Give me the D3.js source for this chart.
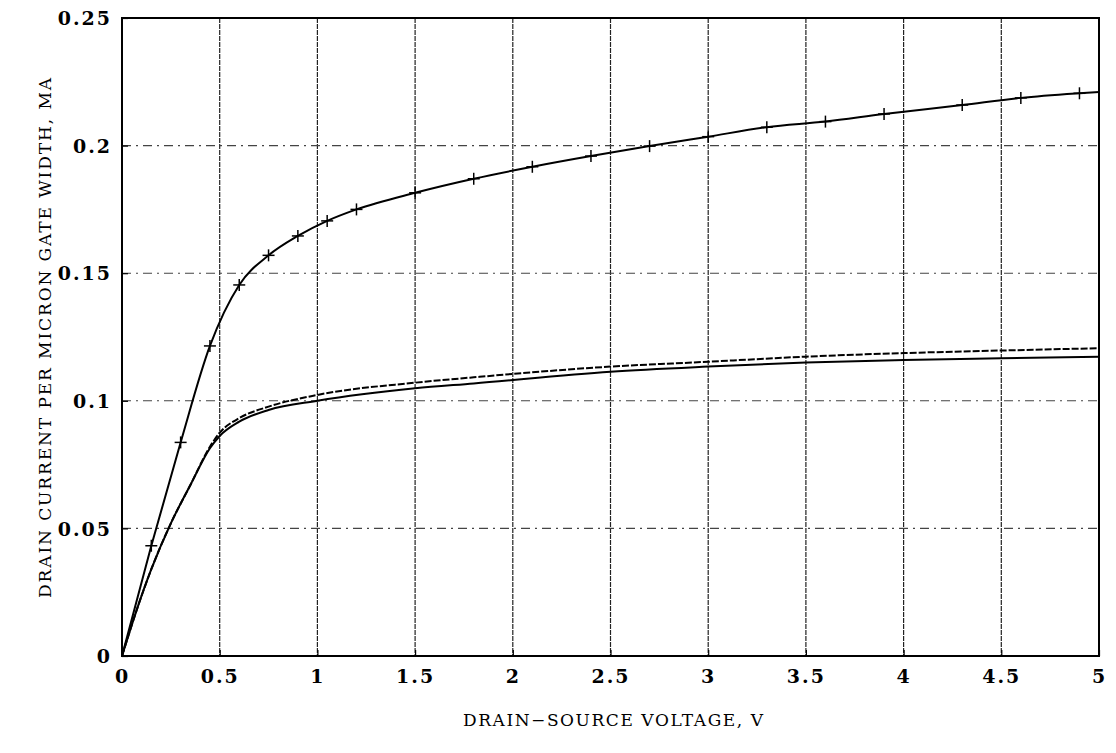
<!DOCTYPE html>
<html>
<head>
<meta charset="utf-8">
<script src="https://cdn.jsdelivr.net/npm/d3@7"></script>
<style>
  html, body { margin: 0; padding: 0; background: #fff; }
  svg { display: block; }
</style>
</head>
<body>
<div id="chart"></div>
<script>
// ---- data ----
const xTicks = [0, 0.5, 1, 1.5, 2, 2.5, 3, 3.5, 4, 4.5, 5];
const yTicks = [0, 0.05, 0.1, 0.15, 0.2, 0.25];
const xTickLabels = ["0", "0.5", "1", "1.5", "2", "2.5", "3", "3.5", "4", "4.5", "5"];
const yTickLabels = ["0", "0.05", "0.1", "0.15", "0.2", "0.25"];

// upper curve (with + markers)
const upperX = [0, 0.15, 0.3, 0.45, 0.6, 0.75, 0.9, 1.05, 1.2, 1.5, 1.8, 2.1, 2.4, 2.7, 3.0, 3.3, 3.6, 3.9, 4.3, 4.6, 4.9, 5.0];
const upperY = [0, 0.0432, 0.0837, 0.1215, 0.1454, 0.157, 0.1646, 0.1705, 0.175, 0.1815, 0.187, 0.1917, 0.1959, 0.1998, 0.2035, 0.2072, 0.2094, 0.2124, 0.2159, 0.2187, 0.2205, 0.221];
const markerX = [0.15, 0.3, 0.45, 0.6, 0.75, 0.9, 1.05, 1.2, 1.5, 1.8, 2.1, 2.4, 2.7, 3.0, 3.3, 3.6, 3.9, 4.3, 4.6, 4.9];
const markerY = [0.0432, 0.0837, 0.1215, 0.1454, 0.157, 0.1646, 0.1705, 0.175, 0.1815, 0.187, 0.1917, 0.1959, 0.1998, 0.2035, 0.2072, 0.2094, 0.2124, 0.2159, 0.2187, 0.2205];

// lower solid curve
const solidX = [0, 0.075, 0.15, 0.25, 0.35, 0.45, 0.5, 0.6, 0.75, 1.0, 1.5, 1.8, 2.5, 3.0, 3.5, 4.0, 4.5, 5.0];
const solidY = [0, 0.018, 0.034, 0.052, 0.067, 0.0814, 0.0862, 0.0918, 0.0964, 0.1, 0.1049, 0.1068, 0.1114, 0.1134, 0.115, 0.116, 0.1167, 0.1173];

// lower dashed curve
const dashX = [0, 0.075, 0.15, 0.25, 0.35, 0.45, 0.5, 0.6, 0.75, 1.0, 1.5, 1.8, 2.5, 3.0, 3.5, 4.0, 4.5, 5.0];
const dashY = [0, 0.018, 0.034, 0.052, 0.067, 0.082, 0.0875, 0.0932, 0.0977, 0.1023, 0.1071, 0.1092, 0.1134, 0.1153, 0.1173, 0.1187, 0.1197, 0.1206];

const xTitle = "DRAIN\u2212SOURCE VOLTAGE, V";
const yTitle = "DRAIN CURRENT PER MICRON GATE WIDTH, MA";

// ---- layout ----
const W = 1116, H = 753;
const pLeft = 122, pRight = 1099, pTop = 18, pBottom = 656;

const svg = d3.select("#chart").append("svg").attr("width", W).attr("height", H);

const x = d3.scaleLinear().domain([0, 5]).range([pLeft, pRight]);
const y = d3.scaleLinear().domain([0, 0.25]).range([pBottom, pTop]);

// gridlines
svg.append("g").selectAll("line").data(xTicks.slice(1, -1)).join("line")
  .attr("x1", d => x(d)).attr("x2", d => x(d))
  .attr("y1", pTop).attr("y2", pBottom)
  .attr("stroke", "#222").attr("stroke-width", 1.2)
  .attr("stroke-dasharray", "5,1");
svg.append("g").selectAll("line").data(yTicks.slice(1, -1)).join("line")
  .attr("x1", pLeft).attr("x2", pRight)
  .attr("y1", d => y(d)).attr("y2", d => y(d))
  .attr("stroke", "#444").attr("stroke-width", 1.1)
  .attr("stroke-dasharray", "9,5,2,5");

// axes (ticks inward, labels)
const tickFont = "DejaVu Serif";
const xAxis = d3.axisBottom(x).tickValues(xTicks).tickSize(-6).tickPadding(14)
  .tickFormat((d, i) => xTickLabels[i]);
const yAxis = d3.axisLeft(y).tickValues(yTicks).tickSize(-6).tickPadding(10)
  .tickFormat((d, i) => yTickLabels[i]);

const gx = svg.append("g").attr("transform", `translate(0,${pBottom})`).call(xAxis);
const gy = svg.append("g").attr("transform", `translate(${pLeft},0)`).call(yAxis);
[gx, gy].forEach(g => {
  g.select(".domain").remove();
  g.selectAll(".tick line").attr("stroke", "#000").attr("stroke-width", 1.2);
  g.selectAll(".tick text")
    .attr("fill", "#000")
    .style("font-family", tickFont)
    .style("font-size", "19px")
    .style("font-weight", "bold")
    .style("letter-spacing", "2px");
});
gy.selectAll(".tick text").attr("dy", "0.35em");

// frame
svg.append("rect")
  .attr("x", pLeft).attr("y", pTop)
  .attr("width", pRight - pLeft).attr("height", pBottom - pTop)
  .attr("fill", "none").attr("stroke", "#000").attr("stroke-width", 2);

// curves
const line = d3.line().x(d => x(d[0])).y(d => y(d[1])).curve(d3.curveMonotoneX);
const upper = upperX.map((v, i) => [v, upperY[i]]);
const solid = solidX.map((v, i) => [v, solidY[i]]);
const dashed = dashX.map((v, i) => [v, dashY[i]]);

svg.append("path").datum(upper).attr("d", line)
  .attr("fill", "none").attr("stroke", "#000").attr("stroke-width", 2);
svg.append("path").datum(solid).attr("d", line)
  .attr("fill", "none").attr("stroke", "#000").attr("stroke-width", 2);
svg.append("path").datum(dashed).attr("d", line)
  .attr("fill", "none").attr("stroke", "#000").attr("stroke-width", 2)
  .attr("stroke-dasharray", "7,2");

// + markers
const markers = markerX.map((v, i) => [v, markerY[i]]);
const mg = svg.append("g").selectAll("g").data(markers).join("g")
  .attr("transform", d => `translate(${x(d[0])},${y(d[1])})`);
mg.append("line").attr("x1", -6).attr("x2", 6).attr("y1", 0).attr("y2", 0)
  .attr("stroke", "#000").attr("stroke-width", 1.5);
mg.append("line").attr("x1", 0).attr("x2", 0).attr("y1", -6).attr("y2", 6)
  .attr("stroke", "#000").attr("stroke-width", 1.5);

// titles
svg.append("text")
  .attr("x", 613).attr("y", 726)
  .attr("text-anchor", "middle")
  .attr("textLength", 300).attr("lengthAdjust", "spacing")
  .style("font-family", "DejaVu Serif")
  .style("font-size", "17px")
  .text(xTitle);

svg.append("text")
  .attr("transform", `translate(51,338) rotate(-90)`)
  .attr("text-anchor", "middle")
  .attr("textLength", 520).attr("lengthAdjust", "spacing")
  .style("font-family", "DejaVu Serif")
  .style("font-size", "17px")
  .text(yTitle);
</script>
</body>
</html>
